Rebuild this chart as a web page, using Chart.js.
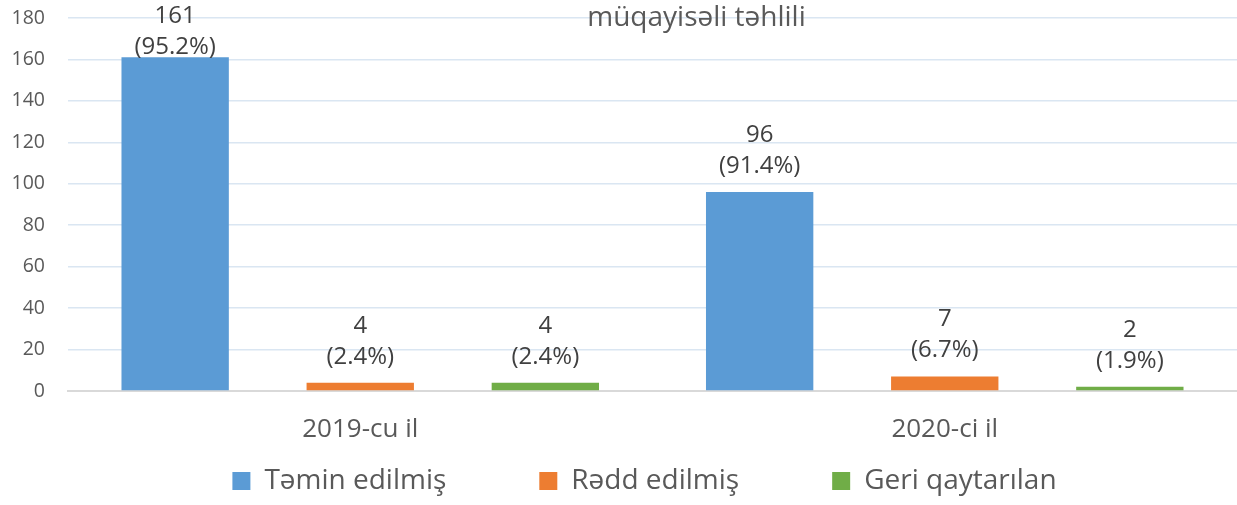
<!DOCTYPE html>
<html>
<head>
<meta charset="utf-8">
<script src="https://cdn.jsdelivr.net/npm/chart.js@4.4.0/dist/chart.umd.min.js"></script>
<style>
  html, body { margin: 0; padding: 0; background: #fff; }
  #wrap { width: 1237px; height: 505px; }
</style>
</head>
<body>
<div id="wrap"><canvas id="chart"></canvas></div>
<script>
const years = ['2019-cu il', '2020-ci il'];
const seriesNames = ['Təmin edilmiş', 'Rədd edilmiş', 'Geri qaytarılan'];
const temin = [161, 96];
const redd = [4, 7];
const geri = [4, 2];
const teminPct = ['95.2%', '91.4%'];
const reddPct = ['2.4%', '6.7%'];
const geriPct = ['2.4%', '1.9%'];
const titleText = 'müqayisəli təhlili';

const colors = ['#5b9bd5', '#ed7d31', '#70ad47'];
const pcts = [teminPct, reddPct, geriPct];
const fontFamily = '"Open Sans", sans-serif';

// draws "value" and "(pct)" above every bar
const barLabels = {
    id: 'barLabels',
    afterDatasetsDraw(chart) {
        const ctx = chart.ctx;
        ctx.save();
        ctx.fillStyle = '#404040';
        ctx.font = '24px ' + fontFamily;
        ctx.textAlign = 'center';
        ctx.textBaseline = 'alphabetic';
        chart.data.datasets.forEach((ds, i) => {
            chart.getDatasetMeta(i).data.forEach((bar, j) => {
                let base2 = bar.y - 19;
                if (base2 - 31 < 23) base2 = 54; // keep the top label inside the canvas
                ctx.fillText(String(ds.data[j]), bar.x, base2 - 31);
                ctx.fillText('(' + pcts[i][j] + ')', bar.x, base2);
            });
        });
        ctx.restore();
    }
};

// title sits over the top of the plot, like the original
const topTitle = {
    id: 'topTitle',
    beforeDatasetsDraw(chart) {
        const ctx = chart.ctx;
        ctx.save();
        ctx.fillStyle = '#595959';
        ctx.font = '28px ' + fontFamily;
        ctx.textAlign = 'center';
        ctx.textBaseline = 'alphabetic';
        ctx.fillText(titleText, chart.width / 2 + 78, 26);
        ctx.restore();
    }
};

// legend in the original is centred a bit right of the canvas middle
const legendShift = {
    id: 'legendShift',
    afterLayout(chart) {
        chart.legend.left += 22;
        chart.legend.right += 22;
    }
};

new Chart(document.getElementById('chart'), {
    type: 'bar',
    data: {
        labels: years,
        datasets: [
            { label: seriesNames[0], data: temin, backgroundColor: colors[0] },
            { label: seriesNames[1], data: redd, backgroundColor: colors[1] },
            { label: seriesNames[2], data: geri, backgroundColor: colors[2] }
        ]
    },
    options: {
        responsive: true,
        maintainAspectRatio: false,
        animation: false,
        layout: { padding: { top: 0, right: 0, left: 8, bottom: 0 } },
        datasets: {
            bar: { categoryPercentage: 0.95, barPercentage: 0.58 }
        },
        scales: {
            y: {
                min: 0,
                max: 180,
                afterFit(scale) {
                    scale.width = 60;
                    scale.paddingTop = 18;
                },
                ticks: { stepSize: 20, color: '#595959', font: { size: 19.5, family: fontFamily }, padding: 23 },
                grid: { color: '#dae6f2', lineWidth: 1.5, drawTicks: false },
                border: { display: false }
            },
            x: {
                afterFit(scale) { scale.height = 66; },
                ticks: { color: '#595959', font: { size: 26, family: fontFamily }, padding: 15 },
                grid: { display: false },
                border: { color: '#d9d9d9', width: 2 }
            }
        },
        plugins: {
            legend: {
                position: 'bottom',
                // empty title with negative padding cancels the vertical part of labels.padding
                title: { display: true, text: '', font: { size: 10, lineHeight: 1 }, padding: { top: -93, bottom: 0 } },
                labels: {
                    color: '#595959',
                    font: { size: 28, family: fontFamily },
                    boxWidth: 18,
                    boxHeight: 18,
                    padding: 93
                }
            },
            tooltip: { enabled: false }
        }
    },
    plugins: [barLabels, topTitle, legendShift]
});
</script>
</body>
</html>
